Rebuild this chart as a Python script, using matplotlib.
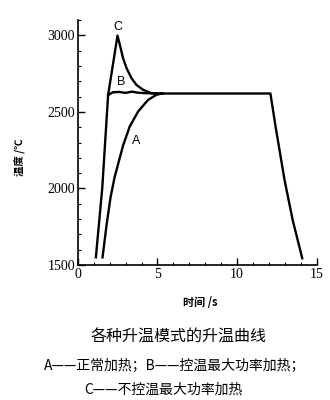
import matplotlib
matplotlib.use('Agg')
import matplotlib.pyplot as plt
from matplotlib.ticker import MultipleLocator

plt.rcParams['font.family'] = ['Noto Sans CJK SC', 'DejaVu Sans']

# curve C: no temperature control, max power (overshoot)
time_c = [1.13, 1.53, 1.9, 2.49, 2.64, 2.84, 3.06, 3.37, 3.68, 4.1, 4.62, 5.2]
temp_c = [1550, 2000, 2610, 2998, 2937, 2850, 2785, 2720, 2676, 2644, 2622, 2620]

# curve B: controlled, max power (leaves C's rise at ~2600)
time_b = [1.9, 2.2, 2.6, 3.0, 3.4, 3.8, 4.3, 5.0, 5.3]
temp_b = [2610, 2628, 2630, 2624, 2632, 2625, 2622, 2620, 2620]

# curve A: normal heating
time_a = [1.55, 1.8, 2.05, 2.3, 2.53, 2.84, 3.26, 3.79, 4.41, 4.94, 5.3]
temp_a = [1550, 1760, 1940, 2070, 2160, 2280, 2405, 2503, 2578, 2612, 2620]

# common hold and cooling
time_hold = [5.3, 12.1, 12.43, 12.99, 13.5, 14.1]
temp_hold = [2620, 2620, 2400, 2054, 1793, 1544]

labels = ['A', 'B', 'C']
label_x = [3.68, 2.74, 2.49]
label_y = [2309, 2696, 3055]

caption = '各种升温模式的升温曲线'
legend1 = 'A——正常加热；B——控温最大功率加热；'
legend2 = 'C——不控温最大功率加热'

fig = plt.figure(figsize=(3.3, 4.0), dpi=100)
ax = fig.add_axes([0.236, 0.3375, 0.7233, 0.6125])

lw = 1.7
ax.plot(time_c, temp_c, color='black', lw=lw)
ax.plot(time_b, temp_b, color='black', lw=lw)
ax.plot(time_a, temp_a, color='black', lw=lw)
ax.plot(time_hold, temp_hold, color='black', lw=lw)

for t, x, y in zip(labels, label_x, label_y):
    ax.text(x, y, t, ha='center', va='center', fontsize=9, family='Liberation Sans')

ax.set_xlim(0, 15)
ax.set_ylim(1500, 3100)
ax.xaxis.set_major_locator(MultipleLocator(5))
ax.xaxis.set_minor_locator(MultipleLocator(1))
ax.yaxis.set_major_locator(MultipleLocator(500))
ax.yaxis.set_minor_locator(MultipleLocator(100))
ax.spines['top'].set_visible(False)
ax.spines['right'].set_visible(False)
ax.spines['left'].set_linewidth(1.2)
ax.spines['bottom'].set_linewidth(1.2)
ax.tick_params(which='major', direction='in', length=5, width=1, pad=2)
ax.tick_params(which='minor', direction='in', length=2.5, width=0.8)
for lab in ax.get_xticklabels() + ax.get_yticklabels():
    lab.set_family('Liberation Serif')
    lab.set_fontsize(10)

fig.text(0.061, 0.607, '温度 /℃', rotation=90, ha='center', va='center',
         fontsize=7.5, fontweight='bold')
fig.text(0.606, 0.245, '时间 /s', ha='center', va='center',
         fontsize=8, fontweight='bold')
fig.text(0.54, 0.157, caption, ha='center', va='center', fontsize=11.5)
fig.text(0.53, 0.085, legend1, ha='center', va='center', fontsize=10)
fig.text(0.495, 0.027, legend2, ha='center', va='center', fontsize=10)

fig.savefig('out.png', dpi=100)
